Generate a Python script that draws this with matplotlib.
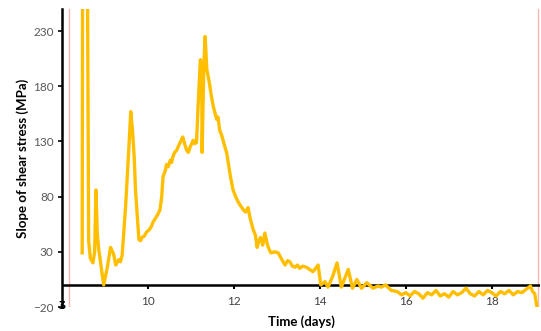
import matplotlib
matplotlib.use("Agg")
import matplotlib.pyplot as plt

# Data
days = [8.47, 8.48, 8.59, 8.62, 8.66, 8.72, 8.76, 8.79, 8.82, 8.85, 8.88, 8.97,
        9.05, 9.13, 9.20, 9.25, 9.32, 9.36, 9.40, 9.48, 9.55, 9.60, 9.64, 9.68, 9.71, 9.79,
        9.83, 9.86, 9.91, 9.97, 10.03, 10.08, 10.12, 10.17, 10.23, 10.28, 10.32,
        10.35, 10.40, 10.43, 10.47, 10.52, 10.55, 10.58, 10.62, 10.67, 10.70, 10.76,
        10.81, 10.86, 10.90, 10.94, 10.98, 11.02, 11.05, 11.09, 11.13, 11.17, 11.22,
        11.25, 11.26, 11.30, 11.33, 11.37, 11.42, 11.48, 11.53, 11.60, 11.63, 11.67,
        11.72, 11.79, 11.83, 11.87, 11.92, 11.98, 12.04, 12.10, 12.15, 12.22, 12.27,
        12.33, 12.38, 12.45, 12.50, 12.54, 12.58, 12.62, 12.67, 12.72, 12.77, 12.80,
        12.86, 12.95, 13.03, 13.10, 13.19, 13.25, 13.30, 13.36, 13.42, 13.48, 13.53,
        13.60, 13.69, 13.76, 13.84, 13.90, 13.96, 14.02, 14.12, 14.19, 14.30, 14.40,
        14.50, 14.58, 14.66, 14.76, 14.86, 14.97, 15.09, 15.24, 15.35, 15.43, 15.53,
        15.66,
        15.8, 15.9, 16.0, 16.1, 16.2, 16.3, 16.4, 16.5, 16.6, 16.7, 16.8, 16.9,
        17.0, 17.1, 17.2, 17.3, 17.4, 17.5, 17.6, 17.7, 17.8, 17.9, 18.0, 18.1,
        18.2, 18.3, 18.4, 18.5, 18.6, 18.7, 18.8, 18.9, 18.95, 19.0, 19.05]
slope = [29, 300, 300, 40, 24, 20, 30, 86, 47, 34, 25, 0,
         15, 34, 28, 18, 23, 21, 27, 71, 120, 157, 140, 116, 86, 41,
         40, 43, 44, 48, 50, 53, 57, 60, 64, 68, 80,
         98, 103, 109, 107, 113, 111, 116, 120, 122, 125, 130,
         134, 127, 122, 120, 125, 128, 131, 128, 129, 165, 204,
         195, 120, 198, 225, 195, 185, 170, 160, 150, 152, 140,
         135, 125, 120, 110, 98, 86, 80, 75, 72, 68, 66,
         70, 60, 50, 45, 34, 40, 43, 36, 47, 38, 34,
         29, 30, 29, 24, 18, 22, 21, 17, 16, 18, 15,
         17, 16, 14, 12, 15, 18, 0, 3, -2, 8, 20,
         -2, 6, 14, -3, 5, -3, 2, -3, -1, -2, 0,
         -5,
         -6, -9, -7, -10, -6, -8, -12, -7, -9, -5, -10, -8,
         -11, -6, -9, -7, -3, -8, -10, -6, -9, -5, -7, -10,
         -6, -8, -5, -9, -6, -7, -4, -1, -6, -8, -20]

xticks = [10, 12, 14, 16, 18]
yticks = [-20, 30, 80, 130, 180, 230]
marker_days = [8.16, 19.08]

plt.rcParams['font.family'] = ['Lato', 'DejaVu Sans']

fig = plt.figure(figsize=(5.41, 3.31), dpi=100)
ax = fig.add_axes([0.1146, 0.0725, 0.8834, 0.9005])

for d in marker_days:
    ax.axvline(d, color='#ffb3b3', lw=1.0, zorder=1)

ax.plot(days, slope, color='#ffbf00', lw=2.4, zorder=3, solid_joinstyle='round')
ax.axhline(0, color='black', lw=1.8, zorder=2)

ax.set_xlim(8.0, 19.12)
ax.set_ylim(-20, 250)

ax.spines['top'].set_visible(False)
ax.spines['right'].set_visible(False)
ax.spines['bottom'].set_visible(False)
ax.spines['left'].set_linewidth(1.8)

ax.set_xticks(xticks)
ax.set_yticks(yticks)
ax.tick_params(axis='x', length=3, width=1.5, pad=5, labelsize=8.5, labelcolor='#404040')
ax.tick_params(axis='y', length=3, width=1.2, pad=3, labelsize=8.5, labelcolor='#595959')
ax.xaxis.set_ticks_position('bottom')
ax.spines['bottom'].set_position(('data', 0))

ax.set_xlabel('Time (days)', fontsize=9.5, fontweight='bold', va='center')
ax.xaxis.set_label_coords(0.50, -0.05)
ax.set_ylabel('Slope of shear stress (MPa)', fontsize=9.5, fontweight='bold', labelpad=3)

# axis break mark at bottom of y axis
ax.text(8.0, -17, 'ʒ', fontsize=8, fontweight='bold', ha='center', va='center',
        color='black', family=['DejaVu Sans'])

fig.savefig('out.png', dpi=100)
